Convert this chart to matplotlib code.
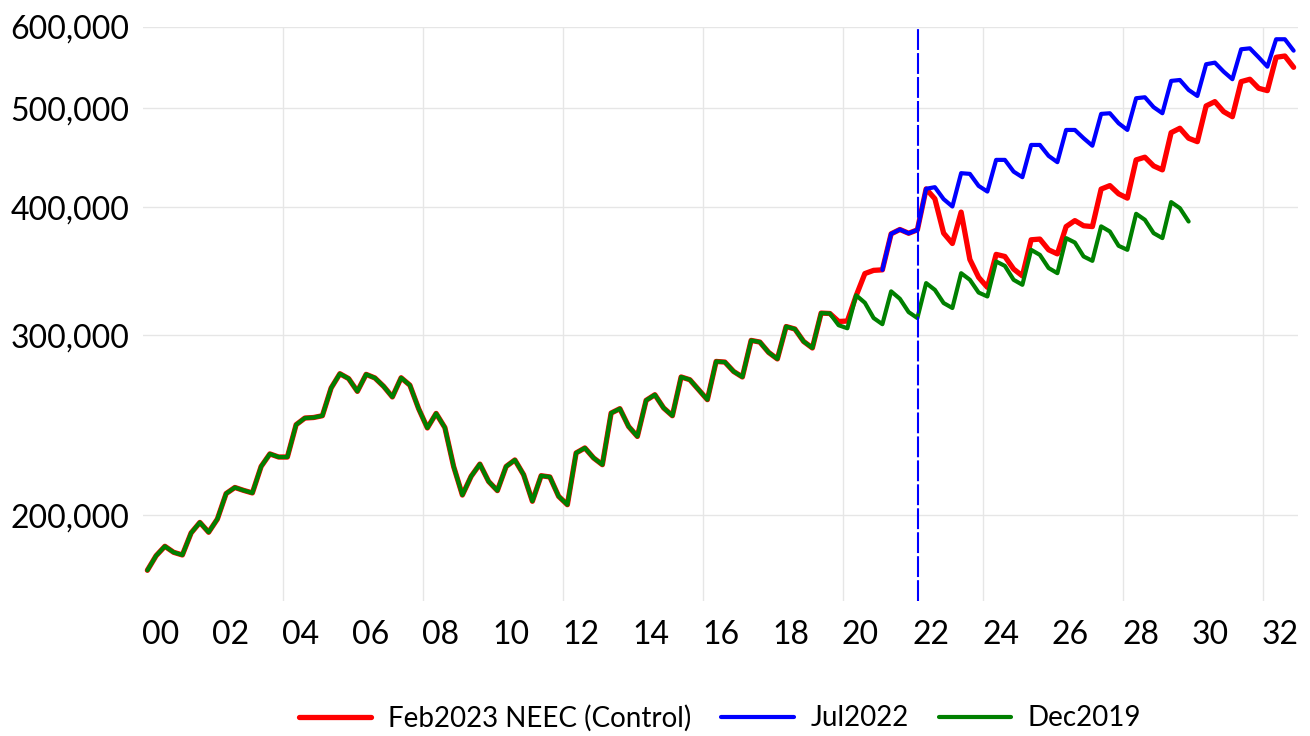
import numpy as np
import matplotlib
matplotlib.use('Agg')
import matplotlib.pyplot as plt
from matplotlib.ticker import FixedLocator, NullLocator

plt.rcParams['font.family'] = ['Lato', 'DejaVu Sans']

# quarterly values, in thousands, starting Q1 2000
start_year = 2000
history_k = [
    176.8, 182.7, 186.6, 184.1, 183.0, 192.3, 196.9, 192.6, 198.4,
    210.1, 213.0, 211.6, 210.4, 223.3, 229.7, 228.1, 228.1,
    245.3, 249.0, 249.3, 250.3,
    266.4, 275.1, 272.1, 264.4, 274.7, 272.5, 267.4, 261.1,
    272.6, 268.1, 254.3, 243.5, 251.6, 243.7, 223.3, 209.4,
    218.4, 224.5, 215.9, 211.5, 223.3, 226.6, 219.2, 206.5,
    218.7, 218.1, 208.8, 204.9, 230.2, 232.8, 227.6, 224.2,
    251.8, 254.3, 244.3, 238.9, 259.1, 262.4, 254.7, 250.3,
    273.1, 271.4, 265.4, 259.5, 282.8, 282.4, 276.5, 273.1,
    296.5, 295.4, 288.6, 284.4, 305.9, 304.2, 295.8, 291.5,
    315.3, 315.0,
]
feb2023_tail_k = [
    309.4, 309.7, 327.8, 344.6, 347.1, 347.5, 376.8, 380.5, 377.3, 380.2,
    416.9, 407.7, 377.4, 368.7, 395.7, 355.7, 341.7, 334.1,
    359.8, 358.1, 348.1, 342.8, 371.8, 372.4, 363.5, 360.2,
    383.0, 388.2, 383.7, 383.0, 416.7, 420.0, 412.3, 408.3,
    445.0, 447.7, 439.0, 435.1, 473.1, 477.8, 467.2, 463.6,
    502.4, 507.3, 496.0, 490.4, 530.6, 533.5, 522.8, 520.0,
    560.5, 562.1, 548.0,
]
jul2022_start = 84  # Q1 2021
jul2022_tail_k = [
    347.5, 376.8, 380.5, 377.3, 380.2,
    417.0, 418.5, 407.4, 400.7, 431.9, 431.2, 419.7, 414.4,
    445.0, 445.0, 433.4, 428.0, 460.2, 460.2, 449.0, 442.7,
    476.0, 476.0, 467.2, 459.4, 493.5, 494.2, 483.2, 476.0,
    511.2, 512.3, 501.0, 494.2, 531.5, 532.6, 520.8, 513.8,
    551.8, 553.8, 542.7, 533.5, 570.7, 571.9, 560.5, 548.8,
    583.7, 583.7, 568.9,
]
dec2019_tail_k = [
    306.8, 304.7, 328.2, 322.7, 311.8, 307.5, 331.1, 325.6, 316.0, 311.8,
    337.3, 332.2, 322.5, 318.9, 344.9, 339.8, 330.2, 327.3,
    354.1, 350.6, 339.8, 336.0, 363.5, 359.4, 348.9, 344.9,
    373.2, 369.5, 358.1, 354.6, 383.2, 378.8, 366.8, 363.5,
    394.2, 388.9, 377.4, 373.2, 404.7, 399.2, 387.4,
]
vline_year = 2022.15

ytick_vals = [200000, 300000, 400000, 500000, 600000]
ytick_labels = ['200,000', '300,000', '400,000', '500,000', '600,000']
xtick_years = list(range(2000, 2033, 2))
xtick_labels = ['%02d' % (y % 100) for y in xtick_years]
grid_years = list(range(2004, 2033, 4))


def qx(first, n):
    return start_year + (np.arange(first, first + n) + 0.5) / 4.0


red = np.array(history_k + feb2023_tail_k) * 1000
green = np.array(history_k + dec2019_tail_k) * 1000
blue = np.array(jul2022_tail_k) * 1000

fig = plt.figure(figsize=(13.1, 7.36), dpi=100)
ax = fig.add_axes([0.10916, 0.18342, 0.88168, 0.77989])

kw = dict(solid_joinstyle='round', solid_capstyle='round')
ax.plot(qx(0, len(red)), red, color='#FF0000', lw=3.8, label='Feb2023 NEEC (Control)', **kw)
ax.plot(qx(jul2022_start, len(blue)), blue, color='#0000FF', lw=3.0, label='Jul2022', **kw)
ax.plot(qx(0, len(green)), green, color='#008000', lw=3.0, label='Dec2019', **kw)
ax.axvline(vline_year, color='#0000FF', lw=1.5, linestyle=(0, (10, 1.5)))

ax.set_yscale('log')
ax.set_ylim(165000, 600000)
ax.set_xlim(2000, 2033)
ax.yaxis.set_major_locator(FixedLocator(ytick_vals))
ax.yaxis.set_minor_locator(NullLocator())
ax.set_yticklabels(ytick_labels)
ax.set_xticks([y + 0.5 for y in xtick_years])
ax.set_xticklabels(xtick_labels)
ax.xaxis.set_minor_locator(FixedLocator(grid_years))

ax.grid(axis='y', which='major', color='#E6E6E6', lw=1)
ax.grid(axis='x', which='minor', color='#E6E6E6', lw=1)
ax.set_axisbelow(True)
ax.tick_params(which='both', length=0, labelsize=23)
ax.tick_params(axis='y', pad=10)
ax.tick_params(axis='x', pad=14)
for s in ax.spines.values():
    s.set_visible(False)

fig.legend(loc='center', bbox_to_anchor=(720 / 1310, 1 - 718 / 736), ncol=3,
           frameon=False, fontsize=20, handlelength=2.6, handletextpad=0.6,
           columnspacing=1.1)

fig.savefig('out.png', dpi=100)
